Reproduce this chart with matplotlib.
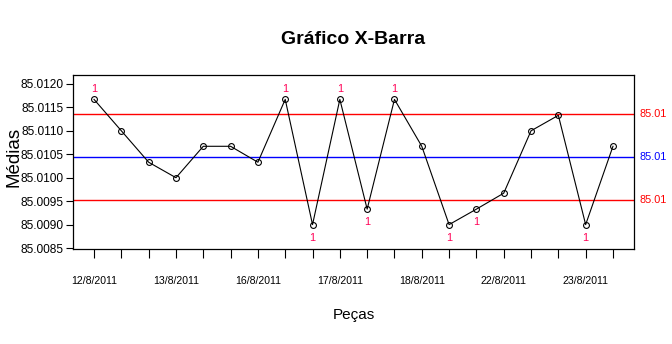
import matplotlib
matplotlib.use("Agg")
import matplotlib.pyplot as plt
import numpy as np

plt.rcParams['font.family'] = ['Liberation Sans', 'DejaVu Sans']

# Data
dates = ["12/8/2011", "13/8/2011", "16/8/2011", "17/8/2011",
         "18/8/2011", "22/8/2011", "23/8/2011"]
means = [85.01167, 85.01100, 85.01033, 85.01000, 85.01067, 85.01067, 85.01033,
         85.01167, 85.00900, 85.01167, 85.00933, 85.01167, 85.01067, 85.00900,
         85.00933, 85.00967, 85.01100, 85.01133, 85.00900, 85.01067]
cl = 85.01044
ucl = 85.01136
lcl = 85.00952
yticks = [85.0085, 85.0090, 85.0095, 85.0100, 85.0105, 85.0110, 85.0115, 85.0120]

W, H = 672, 344
fig = plt.figure(figsize=(W / 100, H / 100), dpi=100)
ax = fig.add_axes([73 / W, 1 - 249 / H, (634 - 73) / W, (249 - 75) / H])

x = np.arange(1, len(means) + 1)
ax.axhline(ucl, color='#FF0000', lw=1.0)
ax.axhline(lcl, color='#FF0000', lw=1.0)
ax.axhline(cl, color='#0000FF', lw=1.0)
ax.plot(x, means, color='black', lw=0.8, marker='o', markersize=4.2,
        markerfacecolor='none', markeredgecolor='black', markeredgewidth=0.8)

viol_color = '#FF0055'
for xi, yi in zip(x, means):
    if yi > ucl:
        ax.annotate('1', (xi, yi), xytext=(0, 4), textcoords='offset points',
                    ha='center', va='bottom', fontsize=7.8, color=viol_color)
    elif yi < lcl:
        ax.annotate('1', (xi, yi), xytext=(0, -6), textcoords='offset points',
                    ha='center', va='top', fontsize=7.8, color=viol_color)

ax.set_xlim(0.23, 20.77)
ax.set_ylim(85.00848, 85.01219)

ax.set_xticks(x)
labels = [''] * len(x)
for i, d in enumerate(dates):
    labels[i * 3] = d
ax.set_xticklabels(labels)
ax.tick_params(axis='x', length=6.5, width=0.8, pad=13, labelsize=7.6)

ax.set_yticks(yticks)
ax.set_yticklabels([f"{v:.4f}" for v in yticks])
ax.tick_params(axis='y', length=5, width=0.8, pad=2, labelsize=8.6)

for s in ax.spines.values():
    s.set_linewidth(0.9)

# right-side limit labels
for val, col in [(ucl, '#FF0000'), (cl, '#0000FF'), (lcl, '#FF0000')]:
    ax.annotate('85.01', (1, val), xycoords=('axes fraction', 'data'),
                xytext=(4, 0), textcoords='offset points',
                ha='left', va='center', fontsize=7.8, color=col)

fig.text(353 / W, 1 - 40 / H, 'Gráfico X-Barra', ha='center', va='center',
         fontsize=14, fontweight='bold')
fig.text(354 / W, 1 - 315 / H, 'Peças', ha='center', va='center', fontsize=11)
fig.text(14 / W, 1 - 157 / H, 'Médias', ha='center', va='center',
         fontsize=13.5, rotation=90)

fig.savefig('out.png', dpi=100)
